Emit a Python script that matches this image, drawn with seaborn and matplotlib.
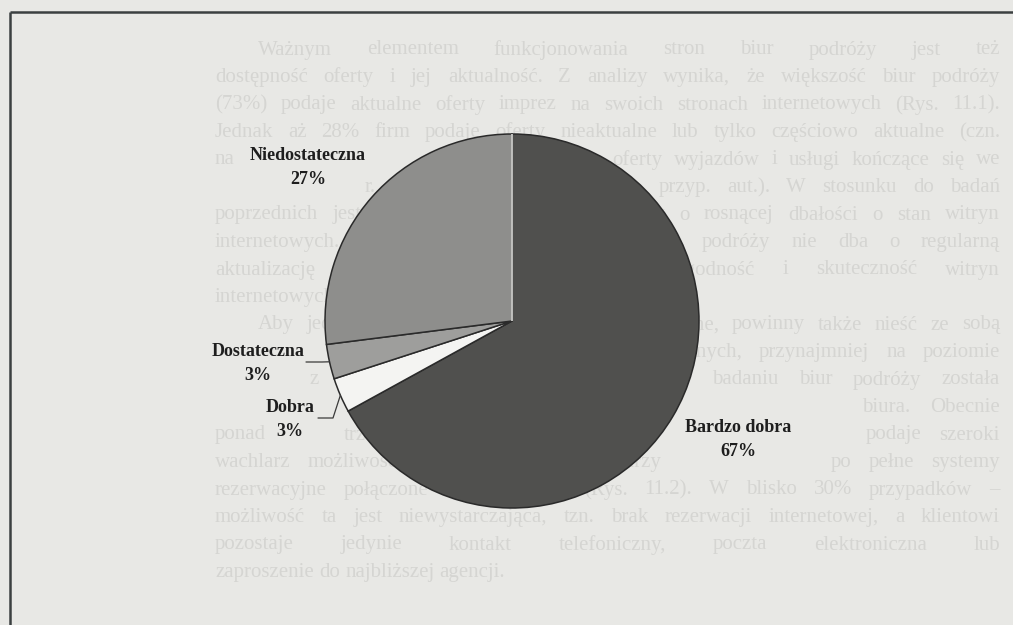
import numpy as np
import matplotlib
matplotlib.use("Agg")
import matplotlib.pyplot as plt
import seaborn as sns

# Oceny stron biur podróży (udział procentowy)
categories = ["Bardzo dobra", "Dobra", "Dostateczna", "Niedostateczna"]
shares = [67, 3, 3, 27]

# Tekst akapitów na stronie, na której umieszczono wykres
paragraph_1 = [
    "Ważnym elementem funkcjonowania stron biur podróży jest też",
    "dostępność oferty i jej aktualność. Z analizy wynika, że większość biur podróży",
    "(73%) podaje aktualne oferty imprez na swoich stronach internetowych (Rys. 11.1).",
    "Jednak aż 28% firm podaje oferty nieaktualne lub tylko częściowo aktualne (czn.",
    "na przykład ogłaszane w kwietniu 2005 r. oferty wyjazdów i usługi kończące się we",
    "wrześniu 2004 r., lub nawet wcześniejsze – przyp. aut.). W stosunku do badań",
    "poprzednich jest to duża poprawa, co świadczy o rosnącej dbałości o stan witryn",
    "internetowych. Nadal jednak co czwarte biuro podróży nie dba o regularną",
    "aktualizację swojej oferty, co obniża wiarygodność i skuteczność witryn",
    "internetowych w turystyce.",
]
paragraph_2 = [
    "Aby jednak witryny biur podróży były skuteczne, powinny także nieść ze sobą",
    "zaangażowane witryny w sprzedaż usług turystycznych, przynajmniej na poziomie",
    "kontaktu z użytkownikiem. Z tego względu w badaniu biur podróży została",
    "zbadana możliwość rezerwacji oferty za pośrednictwem serwisu biura. Obecnie",
    "ponad dwie trzecie firm turystycznych działających w Internecie podaje szeroki",
    "wachlarz możliwości rezerwacji, od formularzy zgłoszeniowych po pełne systemy",
    "rezerwacyjne połączone z bazą ofert (Rys. 11.2). W blisko 30% przypadków –",
    "możliwość ta jest niewystarczająca, tzn. brak rezerwacji internetowej, a klientowi",
    "pozostaje jedynie kontakt telefoniczny, poczta elektroniczna lub",
    "zaproszenie do najbliższej agencji.",
]

sns.set_theme(style="white")
plt.rcParams["font.family"] = ["Liberation Serif", "DejaVu Serif"]

W, H = 1013, 625
PAPER = "#e8e8e5"
fig = plt.figure(figsize=(W / 100, H / 100), dpi=100, facecolor=PAPER)
ax = fig.add_axes([0, 0, 1, 1])
ax.set_facecolor(PAPER)
ax.set_xlim(0, W)
ax.set_ylim(0, H)
renderer = fig.canvas.get_renderer()


def Y(y):
    """Convert a top-down page coordinate to the axes' bottom-up one."""
    return H - y


# --- pie -------------------------------------------------------------------
cx, cy, R = 512, 321, 187
colors = ["#50504e", "#f4f4f2", "#9e9e9c", "#8e8e8c"]
wedges, _ = ax.pie(
    shares, colors=colors, startangle=90, counterclock=False,
    center=(cx, Y(cy)), radius=R,
    wedgeprops=dict(edgecolor="#2a2a2a", linewidth=1.1),
)
for w in wedges:
    w.set_zorder(2)
# light seam along the starting radius
ax.plot([cx, cx], [Y(cy), Y(cy) + R], color="#d9d9d6", lw=1.2, zorder=3,
        solid_capstyle="butt")

ax.set_xlim(0, W)
ax.set_ylim(0, H)
ax.set_aspect("equal")
ax.axis("off")

# --- labels ----------------------------------------------------------------
label_kw = dict(fontsize=13, fontweight="bold", color="#1e1e1e",
                ha="center", va="center", zorder=4)
label_pos = {
    "Bardzo dobra": (738, 428),
    "Dobra": (290, 407),
    "Dostateczna": (258, 352),
    "Niedostateczna": (308, 155),
}
label_boxes = []
for name, val in zip(categories, shares):
    x, y = label_pos[name]
    for t in (ax.text(x, Y(y), name, **label_kw),
              ax.text(x, Y(y + 24), f"{val}%", **label_kw)):
        label_boxes.append(t.get_window_extent(renderer).expanded(1.08, 1.3))

# leader lines for the two thin wedges
elbows = {"Dostateczna": ((306, 362), (322, 362)),
          "Dobra": ((318, 418), (333, 418))}
for w, name in zip(wedges, categories):
    if name not in elbows:
        continue
    mid = np.deg2rad((w.theta1 + w.theta2) / 2)
    ex, ey = cx + R * np.cos(mid), Y(cy) + R * np.sin(mid)
    (x0, y0), (x1, y1) = elbows[name]
    ax.plot([x0, x1, ex], [Y(y0), Y(y1), ey], color="#3a3a3a", lw=0.9, zorder=4)

# --- faint page text behind the chart -------------------------------------
text_kw = dict(fontsize=15, color="#d5d5d2", ha="left", va="center", zorder=0)
LEFT, RIGHT, INDENT = 215, 1000, 258
line_step = 27.5


def text_width(s):
    t = ax.text(0, 0, s, **text_kw)
    wdt = t.get_window_extent(renderer).width
    t.remove()
    return wdt


space_w = text_width("a a") - 2 * text_width("a")


def set_line(line, y, x0, justify):
    words = line.split()
    arts = [ax.text(0, Y(y), w, **text_kw) for w in words]
    widths = [a.get_window_extent(renderer).width for a in arts]
    gap = space_w
    if justify and len(words) > 1:
        gap = (RIGHT - x0 - sum(widths)) / (len(words) - 1)
    x = x0
    for a, wd in zip(arts, widths):
        a.set_x(x)
        x += wd + gap
    # words lying under a chart label are covered by it on the page
    for a in arts:
        bb = a.get_window_extent(renderer)
        if any(bb.overlaps(lb) for lb in label_boxes):
            a.remove()


row = 0
for para in (paragraph_1, paragraph_2):
    for i, line in enumerate(para):
        set_line(line, 50 + row * line_step, INDENT if i == 0 else LEFT,
                 justify=i < len(para) - 1)
        row += 1

# --- frame lines along the top and left edges ------------------------------
ax.plot([10, W + 5], [Y(12), Y(12)], color="#3b4041", lw=1.8, zorder=5,
        solid_capstyle="butt", clip_on=False)
ax.plot([10, 10], [Y(12), -5], color="#3b4041", lw=1.8, zorder=5,
        solid_capstyle="butt", clip_on=False)

fig.savefig("out.png", dpi=100, facecolor=PAPER)
